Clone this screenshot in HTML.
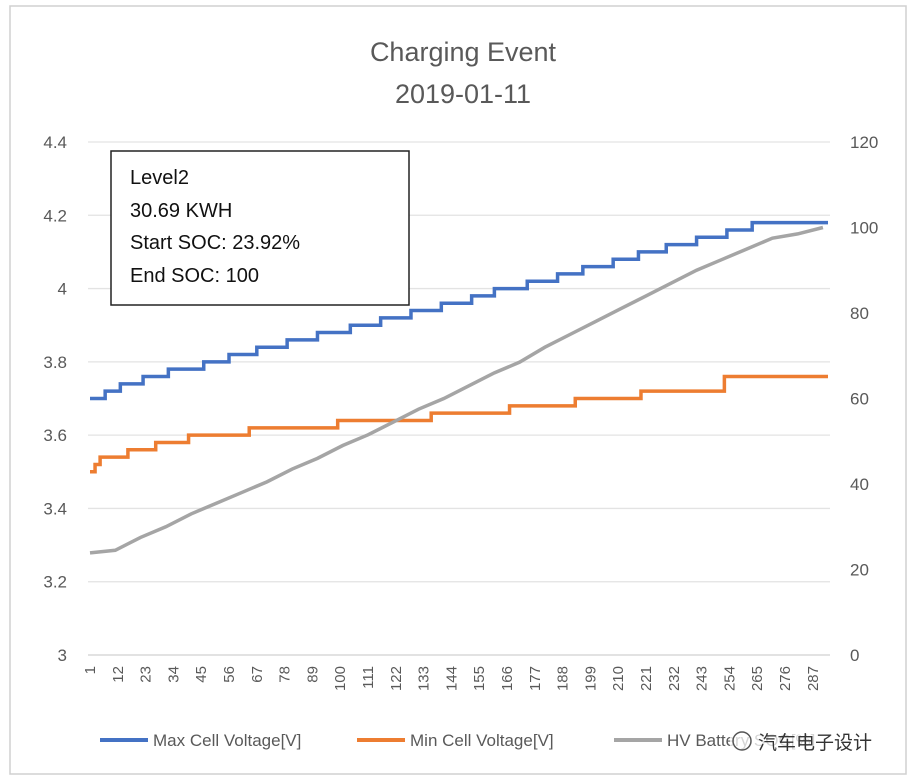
<!DOCTYPE html>
<html><head><meta charset="utf-8"><style>
body{margin:0;background:#fff;}
svg{display:block;font-family:"Liberation Sans","Noto Sans CJK SC",sans-serif;}
</style></head><body>
<svg id="c" width="917" height="783">
<rect x="10" y="6" width="896" height="768" fill="#fff" stroke="#d0d0d0" stroke-width="1.5"/>
<text x="463" y="61" text-anchor="middle" font-size="27" fill="#595959">Charging Event</text>
<text x="463" y="103" text-anchor="middle" font-size="27" fill="#595959">2019-01-11</text>
<g id="grid"></g><g id="series"></g><g id="axes"></g>
<g>
<rect x="111" y="151" width="298" height="154" fill="#fff" stroke="#222" stroke-width="1.5"/>
<text x="130" y="184" font-size="20" fill="#111">Level2</text>
<text x="130" y="217" font-size="20" fill="#111">30.69  KWH</text>
<text x="130" y="249" font-size="20" fill="#111">Start SOC: 23.92%</text>
<text x="130" y="282" font-size="20" fill="#111">End SOC: 100</text>
</g>
<g>
<line x1="100" y1="740" x2="148" y2="740" stroke="#4472C4" stroke-width="4"/>
<text x="153" y="746" font-size="17" fill="#595959">Max Cell Voltage[V]</text>
<line x1="357" y1="740" x2="405" y2="740" stroke="#ED7D31" stroke-width="4"/>
<text x="410" y="746" font-size="17" fill="#595959">Min Cell Voltage[V]</text>
<line x1="614" y1="740" x2="662" y2="740" stroke="#A5A5A5" stroke-width="4"/>
<text x="667" y="746" font-size="17" fill="#595959">HV Battery SOC[%]</text>
</g>
<g>
<rect x="730" y="727" width="160" height="28" fill="#fff" opacity="0.75"/>
<circle cx="742" cy="741" r="9" fill="none" stroke="#555" stroke-width="1.5"/>
<text x="758" y="749" font-size="19" fill="#333">汽车电子设计</text>
</g>
</svg>
<script>
const leftTicks=["3","3.2","3.4","3.6","3.8","4","4.2","4.4"];
const rightTicks=["0","20","40","60","80","100","120"];
const nPoints=293;
const xLabels=[1,12,23,34,45,56,67,78,89,100,111,122,133,144,155,166,177,188,199,210,221,232,243,254,265,276,287];
// step series: index where step begins, value
const maxStepIdx=[1,7,13,22,32,46,56,67,79,91,104,116,128,140,152,161,174,186,196,208,218,229,241,253,263];
const maxStepVal=[3.70,3.72,3.74,3.76,3.78,3.80,3.82,3.84,3.86,3.88,3.90,3.92,3.94,3.96,3.98,4.00,4.02,4.04,4.06,4.08,4.10,4.12,4.14,4.16,4.18];
const minStepIdx=[1,3,5,16,27,40,64,99,136,167,193,219,252];
const minStepVal=[3.50,3.52,3.54,3.56,3.58,3.60,3.62,3.64,3.66,3.68,3.70,3.72,3.76];
const socIdx=[1,11,21,31,41,51,61,71,81,91,101,111,121,131,141,151,161,171,181,191,201,211,221,231,241,251,261,271,281,291];
const socVal=[23.9,24.5,27.5,30,33,35.5,38,40.5,43.5,46,49,51.5,54.5,57.5,60,63,66,68.5,72,75,78,81,84,87,90,92.5,95,97.5,98.5,100];
const NS='http://www.w3.org/2000/svg';
const X0=90,X1=828,YT=142,YB=655;
const xs=i=>X0+(i-1)*(X1-X0)/(nPoints-1);
const yl=v=>YB-(v-3)*(YB-YT)/1.4;
const yr=v=>YB-v*(YB-YT)/120;
function mk(tag,parent,attrs){const e=document.createElementNS(NS,tag);for(const k in attrs)e.setAttribute(k,attrs[k]);parent.appendChild(e);return e;}
const grid=document.getElementById('grid'),axes=document.getElementById('axes'),ser=document.getElementById('series');
leftTicks.forEach(t=>{const y=yl(+t);
 const g=mk('line',grid,{x1:88,x2:830,y1:y,y2:y,stroke:+t===3?'#d0d0d0':'#e3e3e3','stroke-width':1.3});
 
 
 const tx=mk('text',axes,{x:67,y:y+6,'text-anchor':'end','font-size':17,fill:'#595959'});tx.textContent=t;
 
 });
rightTicks.forEach(t=>{const y=yr(+t);
 const tx=mk('text',axes,{x:850,y:y+6,'font-size':17,fill:'#595959'});tx.textContent=t;
 
 });
xLabels.forEach(l=>{const x=xs(l)+5,y=666;
 const tx=mk('text',axes,{x:x,y:y,'text-anchor':'end','font-size':15,fill:'#595959',transform:`rotate(-90 ${x} ${y})`});tx.textContent=l;
 
 });
function stepPath(idx,val,end){let d='';for(let k=0;k<idx.length;k++){const a=xs(idx[k]),b=xs(k+1<idx.length?idx[k+1]:end),y=yl(val[k]);d+=(k?'L':'M')+a+' '+y+'L'+b+' '+y;}return d;}
const pm=mk('path',ser,{d:stepPath(minStepIdx,minStepVal,nPoints),fill:'none',stroke:'#ED7D31','stroke-width':3.5});


const ps=mk('polyline',ser,{points:socIdx.map((i,k)=>xs(i)+','+yr(socVal[k])).join(' '),fill:'none',stroke:'#A5A5A5','stroke-width':3.5});


const pM=mk('path',ser,{d:stepPath(maxStepIdx,maxStepVal,nPoints),fill:'none',stroke:'#4472C4','stroke-width':3.5});


</script>
</body></html>
